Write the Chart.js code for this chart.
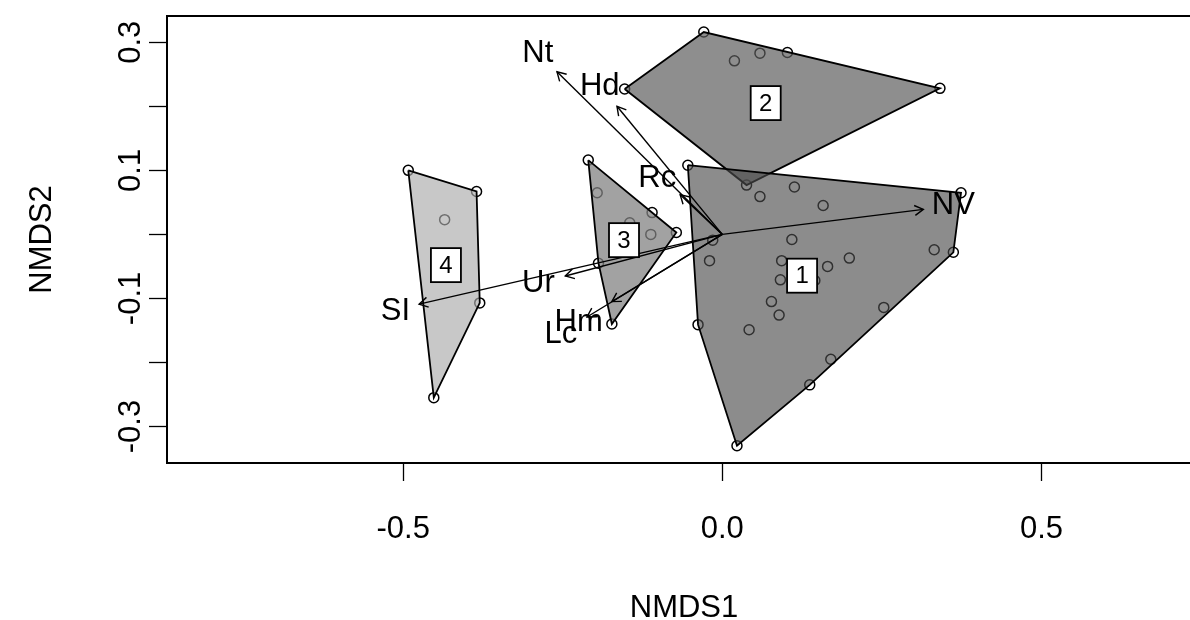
<!DOCTYPE html>
<html>
<head>
<meta charset="utf-8">
<title>NMDS ordination</title>
<script src="https://cdn.jsdelivr.net/npm/chart.js@4/dist/chart.umd.min.js"></script>
<style>
  html, body { margin: 0; padding: 0; background: #fff; overflow: hidden; }
  #chart { display: block; }
</style>
</head>
<body>
<canvas id="chart" width="1230" height="640"></canvas>
<script>
// site scores per cluster (NMDS1 / NMDS2)
const group1X = [-0.054, 0.059, 0.113, 0.158, 0.374, 0.109, -0.015, -0.020, 0.093, 0.091, 0.145, 0.165, 0.199, 0.332, 0.362, 0.077, 0.089, 0.042, 0.253, -0.038, 0.170, 0.137, 0.023];
const group1Y = [0.108, 0.059, 0.074, 0.045, 0.065, -0.008, -0.009, -0.041, -0.041, -0.071, -0.072, -0.050, -0.037, -0.024, -0.028, -0.105, -0.126, -0.149, -0.114, -0.141, -0.195, -0.235, -0.330];
const group2X = [-0.029, -0.153, 0.019, 0.059, 0.102, 0.341, 0.038];
const group2Y = [0.316, 0.227, 0.271, 0.283, 0.284, 0.228, 0.077];
const group3X = [-0.210, -0.196, -0.110, -0.072, -0.112, -0.145, -0.194, -0.173];
const group3Y = [0.116, 0.065, 0.034, 0.003, 0.000, 0.018, -0.045, -0.140];
const group4X = [-0.492, -0.385, -0.435, -0.380, -0.452];
const group4Y = [0.100, 0.067, 0.023, -0.107, -0.255];

// cluster labels
const clusterNames = ['1', '2', '3', '4'];
const clusterLabelX = [0.125, 0.068, -0.154, -0.433];
const clusterLabelY = [-0.0645, 0.205, -0.009, -0.048];

// envfit vectors
const envNames = ['NV', 'Nt', 'Hd', 'Rc', 'Ur', 'SI', 'Hm', 'Lc'];
const envX = [0.315, -0.259, -0.165, -0.066, -0.246, -0.475, -0.212, -0.173];
const envY = [0.039, 0.254, 0.200, 0.062, -0.065, -0.109, -0.129, -0.105];
const envLabelX = [0.362, -0.289, -0.192, -0.102, -0.288, -0.512, -0.225, -0.253];
const envLabelY = [0.045, 0.282, 0.231, 0.088, -0.076, -0.121, -0.138, -0.157];

// axes
const xTicks = [-0.5, 0, 0.5];
const xTickLabels = ['-0.5', '0.0', '0.5'];
const yTicks = [-0.3, -0.2, -0.1, 0, 0.1, 0.2, 0.3];
const yTickLabels = ['-0.3', '', '-0.1', '', '0.1', '', '0.3'];

const FONT = '"Liberation Sans", Arial, sans-serif';

function toPoints(xs, ys) {
  return xs.map((x, i) => ({x: x, y: ys[i]}));
}

// convex hull (monotone chain), closed
function hull(pts) {
  const p = pts.slice().sort((a, b) => a.x - b.x || a.y - b.y);
  const cross = (o, a, b) => (a.x - o.x) * (b.y - o.y) - (a.y - o.y) * (b.x - o.x);
  const lower = [];
  for (const q of p) {
    while (lower.length >= 2 && cross(lower[lower.length - 2], lower[lower.length - 1], q) <= 0) lower.pop();
    lower.push(q);
  }
  const upper = [];
  for (let i = p.length - 1; i >= 0; i--) {
    const q = p[i];
    while (upper.length >= 2 && cross(upper[upper.length - 2], upper[upper.length - 1], q) <= 0) upper.pop();
    upper.push(q);
  }
  upper.pop();
  lower.pop();
  const h = lower.concat(upper);
  h.push(h[0]);
  return h;
}

const groups = [
  {pts: toPoints(group1X, group1Y), fill: 'rgba(75,75,75,0.64)'},
  {pts: toPoints(group2X, group2Y), fill: 'rgba(92,92,92,0.69)'},
  {pts: toPoints(group3X, group3Y), fill: 'rgba(130,130,130,0.74)'},
  {pts: toPoints(group4X, group4Y), fill: 'rgba(170,170,170,0.65)'}
];

const datasets = [];
groups.forEach(function(g) {
  datasets.push({
    type: 'scatter',
    data: g.pts,
    pointStyle: 'circle',
    pointRadius: 5,
    pointBorderWidth: 1.5,
    pointBorderColor: '#000',
    pointBackgroundColor: 'rgba(0,0,0,0)',
    order: 3
  });
});
groups.forEach(function(g) {
  datasets.push({
    type: 'line',
    data: hull(g.pts),
    borderColor: '#000',
    borderWidth: 1.8,
    backgroundColor: g.fill,
    fill: 'shape',
    pointRadius: 0,
    tension: 0,
    order: 2
  });
});
envNames.forEach(function(n, i) {
  datasets.push({
    type: 'line',
    data: [{x: 0, y: 0}, {x: envX[i], y: envY[i]}],
    borderColor: '#000',
    borderWidth: 1.4,
    pointRadius: 0,
    fill: false,
    order: 1
  });
});

const overlay = {
  id: 'overlay',
  afterDatasetsDraw(chart) {
    const ctx = chart.ctx;
    const xs = chart.scales.x;
    const ys = chart.scales.y;
    ctx.save();
    // arrow heads
    ctx.strokeStyle = '#000';
    ctx.lineWidth = 1.4;
    const x0 = xs.getPixelForValue(0);
    const y0 = ys.getPixelForValue(0);
    envNames.forEach(function(n, i) {
      const x1 = xs.getPixelForValue(envX[i]);
      const y1 = ys.getPixelForValue(envY[i]);
      const a = Math.atan2(y1 - y0, x1 - x0);
      const len = 10;
      ctx.beginPath();
      ctx.moveTo(x1 - len * Math.cos(a - Math.PI / 6), y1 - len * Math.sin(a - Math.PI / 6));
      ctx.lineTo(x1, y1);
      ctx.lineTo(x1 - len * Math.cos(a + Math.PI / 6), y1 - len * Math.sin(a + Math.PI / 6));
      ctx.stroke();
    });
    // vector labels
    ctx.fillStyle = '#000';
    ctx.font = '31px ' + FONT;
    ctx.textAlign = 'center';
    ctx.textBaseline = 'middle';
    envNames.forEach(function(n, i) {
      ctx.fillText(n, xs.getPixelForValue(envLabelX[i]), ys.getPixelForValue(envLabelY[i]));
    });
    // cluster labels in boxes
    ctx.font = '24px ' + FONT;
    clusterNames.forEach(function(n, i) {
      const cx = xs.getPixelForValue(clusterLabelX[i]);
      const cy = ys.getPixelForValue(clusterLabelY[i]);
      ctx.fillStyle = '#fff';
      ctx.fillRect(cx - 15, cy - 17, 30, 34);
      ctx.lineWidth = 1.8;
      ctx.strokeRect(cx - 15, cy - 17, 30, 34);
      ctx.fillStyle = '#000';
      ctx.fillText(n, cx, cy + 1);
    });
    ctx.restore();
  },
  afterDraw(chart) {
    const a = chart.chartArea;
    const ctx = chart.ctx;
    ctx.save();
    ctx.strokeStyle = '#000';
    ctx.lineWidth = 2;
    ctx.strokeRect(a.left, a.top, a.right - a.left, a.bottom - a.top);
    ctx.restore();
  }
};

new Chart(document.getElementById('chart'), {
  type: 'scatter',
  data: {datasets: datasets},
  options: {
    responsive: false,
    animation: false,
    events: [],
    layout: {padding: {top: 16, right: 29, left: 0, bottom: 0}},
    plugins: {legend: {display: false}, tooltip: {enabled: false}},
    scales: {
      x: {
        type: 'linear',
        min: -0.87,
        max: 0.75,
        afterBuildTicks: function(s) { s.ticks = xTicks.map(v => ({value: v})); },
        afterFit: function(s) { s.height = 177; },
        grid: {display: true, drawOnChartArea: false, drawTicks: true, tickLength: 18, tickColor: '#000', tickWidth: 1.3},
        border: {display: false},
        ticks: {
          autoSkip: false,
          maxRotation: 0,
          padding: 30,
          color: '#000',
          font: {family: FONT, size: 31},
          callback: function(v) { return xTickLabels[xTicks.indexOf(v)]; }
        },
        title: {display: true, text: 'NMDS1', color: '#000', font: {family: FONT, size: 31}, padding: {top: 0, bottom: 13}}
      },
      y: {
        type: 'linear',
        min: -0.357,
        max: 0.341,
        afterBuildTicks: function(s) { s.ticks = yTicks.map(v => ({value: v})); },
        afterFit: function(s) { s.width = 167; },
        grid: {display: true, drawOnChartArea: false, drawTicks: true, tickLength: 18, tickColor: '#000', tickWidth: 1.3},
        border: {display: false},
        ticks: {
          autoSkip: false,
          minRotation: 90,
          maxRotation: 90,
          crossAlign: 'center',
          padding: -9,
          color: '#000',
          font: {family: FONT, size: 31},
          callback: function(v) { return yTickLabels[yTicks.indexOf(v)]; }
        },
        title: {display: true, text: 'NMDS2', color: '#000', font: {family: FONT, size: 31}, padding: {top: 24, bottom: 0}}
      }
    }
  },
  plugins: [overlay]
});
</script>
</body>
</html>
